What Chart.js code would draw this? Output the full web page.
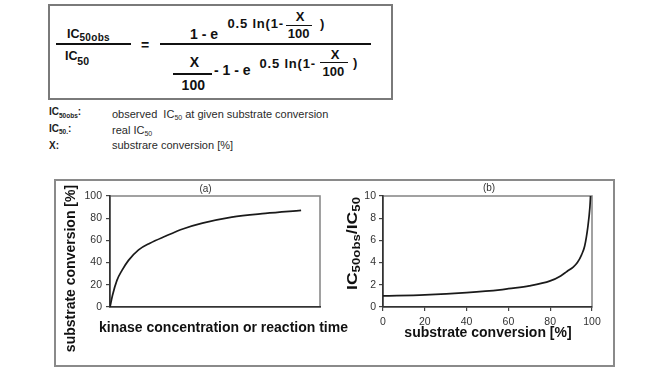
<!DOCTYPE html>
<html>
<head>
<meta charset="utf-8">
<script src="https://cdn.jsdelivr.net/npm/chart.js@4"></script>
<style>
  html, body { margin:0; padding:0; background:#fff; }
  #page { position:relative; width:652px; height:372px; overflow:hidden; font-family:"Liberation Sans", Arial, sans-serif; }
  .t { position:absolute; line-height:1; white-space:pre; font-weight:bold; color:#111; }
  .n { position:absolute; line-height:1; white-space:pre; font-weight:normal; color:#2a2a2a; }
  .c { text-align:center; width:30px; }
  .ln { position:absolute; background:#111; }
  .sub { font-size:6.5px; position:relative; top:2.5px; }
  #fbox { position:absolute; left:48px; top:4px; width:345px; height:96px; box-sizing:border-box; border:2px solid #7a7a7a; }
  #cbox { position:absolute; left:54px; top:179px; width:561px; height:188px; box-sizing:border-box; border:2px solid #8a8a8a; }
  canvas { position:absolute; }
</style>
</head>
<body>
<div id="page">
  <div id="fbox"></div>
  <!-- formula -->
  <span class="t" style="left:67px;top:27.7px;font-size:12.5px">IC</span>
  <span class="t" style="left:79.5px;top:33.2px;font-size:10px;letter-spacing:0.3px">50obs</span>
  <div class="ln" style="left:56px;top:43.3px;width:75px;height:1.5px"></div>
  <span class="t" style="left:65px;top:50.1px;font-size:12.5px">IC</span>
  <span class="t" style="left:77.3px;top:55.6px;font-size:10.5px">50</span>
  <span class="t" style="left:141px;top:37.6px;font-size:14px">=</span>
  <div class="ln" style="left:160px;top:43.3px;width:211px;height:1.5px"></div>
  <span class="t" style="left:190px;top:26.5px;font-size:14px">1 - e</span>
  <span class="t" style="left:227.5px;top:16.6px;font-size:13px;letter-spacing:0.8px">0.5 ln(1-</span>
  <span class="t c" style="left:285px;top:10px;font-size:13px">X</span>
  <div class="ln" style="left:286px;top:25px;width:26px;height:1.3px"></div>
  <span class="t c" style="left:283.7px;top:27.3px;font-size:13px">100</span>
  <span class="t" style="left:320px;top:16.6px;font-size:13px">)</span>
  <span class="t c" style="left:179.3px;top:54.9px;font-size:14px">X</span>
  <div class="ln" style="left:172.7px;top:73.3px;width:39px;height:1.5px"></div>
  <span class="t c" style="left:178.3px;top:78.2px;font-size:14px">100</span>
  <span class="t" style="left:214px;top:63.2px;font-size:14px">- 1 - e</span>
  <span class="t" style="left:259.5px;top:56.6px;font-size:13px;letter-spacing:0.8px">0.5 ln(1-</span>
  <span class="t c" style="left:320px;top:48.3px;font-size:13px">X</span>
  <div class="ln" style="left:320px;top:62px;width:28px;height:1.2px"></div>
  <span class="t c" style="left:318.3px;top:65px;font-size:13px">100</span>
  <span class="t" style="left:353px;top:56.3px;font-size:13px">)</span>
  <!-- legend -->
  <span class="t" style="left:49px;top:107.2px;font-size:10px;color:#222">IC<span class="sub">50obs</span>:</span>
  <span class="n" style="left:112px;top:108.6px;font-size:11px">observed  IC<span class="sub" style="font-size:7px">50</span> at given substrate conversion</span>
  <span class="t" style="left:49px;top:123.7px;font-size:10px;color:#222">IC<span class="sub">50.</span>:</span>
  <span class="n" style="left:112px;top:124.6px;font-size:11px">real IC<span class="sub" style="font-size:7px">50</span></span>
  <span class="t" style="left:49px;top:140.7px;font-size:10px;color:#222">X:</span>
  <span class="n" style="left:112px;top:140.3px;font-size:11px">substrare conversion [%]</span>

  <div id="cbox"></div>
  <canvas id="chartA" width="304" height="184" style="left:56px;top:181px"></canvas>
  <canvas id="chartB" width="273" height="184" style="left:340px;top:181px"></canvas>
</div>
<script>
// ---- data ----
const panelA_time = [0, 1.2, 3.3, 5.7, 8.8, 13.6, 19, 26, 35, 44, 58, 74, 91];
const panelA_conversion = [0, 10.6, 24, 33, 42, 51.5, 57.5, 63.5, 70.5, 75.5, 81, 84.3, 87];
const panelB_conversion = [0, 20, 40, 56, 60, 70, 80, 85, 88, 91, 93, 95, 96.5, 98, 99, 99.3];
const panelB_ratio = [1.0, 1.1, 1.3, 1.55, 1.65, 1.9, 2.35, 2.8, 3.2, 3.6, 4.0, 4.7, 5.5, 7.2, 9.0, 10];
const panelA_yTicks = [0, 20, 40, 60, 80, 100];
const panelB_yTicks = [0, 2, 4, 6, 8, 10];
const panelB_xTicks = [0, 20, 40, 60, 80, 100];

const FONT = '"Liberation Sans", Arial, sans-serif';

const framePlugin = {
  id: 'frame',
  beforeDraw(chart) {
    const a = chart.chartArea, ctx = chart.ctx;
    ctx.save();
    ctx.strokeStyle = '#8a8a8a';
    ctx.lineWidth = 1.6;
    ctx.strokeRect(a.left, a.top, a.right - a.left, a.bottom - a.top);
    ctx.restore();
  }
};

const textPlugin = {
  id: 'texts',
  afterDraw(chart, args, opts) {
    const ctx = chart.ctx;
    (opts.items || []).forEach(it => {
      ctx.save();
      ctx.translate(it.x, it.y);
      if (it.rot) ctx.rotate(it.rot);
      ctx.fillStyle = it.color || '#111';
      ctx.textBaseline = 'alphabetic';
      ctx.textAlign = 'left';
      let total = 0;
      const widths = it.parts.map(p => {
        ctx.font = (p.bold ? 'bold ' : '') + p.size + 'px ' + FONT;
        const w = ctx.measureText(p.t).width;
        total += w;
        return w;
      });
      if (it.width) ctx.scale(it.width / total, 1);
      let x = -total / 2;
      it.parts.forEach((p, i) => {
        ctx.font = (p.bold ? 'bold ' : '') + p.size + 'px ' + FONT;
        ctx.fillText(p.t, x, p.dy || 0);
        x += widths[i];
      });
      ctx.restore();
    });
  }
};

function setTicks(list) {
  return function(scale) { scale.ticks = list.map(v => ({ value: v })); };
}

const tickFont = { family: FONT, size: 10.5 };

new Chart(document.getElementById('chartA'), {
  type: 'line',
  data: {
    datasets: [{
      data: panelA_time.map((t, i) => ({ x: t, y: panelA_conversion[i] })),
      borderColor: '#1a1a1a', borderWidth: 1.7, pointRadius: 0,
      cubicInterpolationMode: 'monotone', fill: false
    }]
  },
  options: {
    responsive: false, animation: false, devicePixelRatio: 1,
    layout: { padding: { left: 0, top: 15, right: 40, bottom: 0 } },
    plugins: {
      legend: { display: false }, tooltip: { enabled: false },
      texts: { items: [
        { x: 19.2, y: 87.5, rot: -Math.PI / 2, parts: [{ t: 'substrate conversion [%]', size: 14, bold: true }] },
        { x: 167.5, y: 151, parts: [{ t: 'kinase concentration or reaction time', size: 14, bold: true }] },
        { x: 149.5, y: 11, color: '#333', parts: [{ t: '(a)', size: 10 }] }
      ] }
    },
    scales: {
      x: {
        type: 'linear', min: 0, max: 100,
        ticks: { display: false },
        grid: { display: false, drawTicks: false },
        border: { display: true, color: '#333', width: 1.6 },
        afterFit(s) { s.height = 58; }
      },
      y: {
        type: 'linear', min: 0, max: 100,
        afterBuildTicks: setTicks(panelA_yTicks),
        ticks: { font: tickFont, color: '#333', padding: 4 },
        grid: { drawOnChartArea: false, drawTicks: true, tickLength: 4, color: '#444', lineWidth: 1.2 },
        border: { display: true, color: '#333', width: 1.6 },
        afterFit(s) { s.width = 54; }
      }
    }
  },
  plugins: [framePlugin, textPlugin]
});

new Chart(document.getElementById('chartB'), {
  type: 'line',
  data: {
    datasets: [{
      data: panelB_conversion.map((c, i) => ({ x: c, y: panelB_ratio[i] })),
      borderColor: '#1a1a1a', borderWidth: 1.7, pointRadius: 0,
      cubicInterpolationMode: 'monotone', fill: false
    }]
  },
  options: {
    responsive: false, animation: false, devicePixelRatio: 1,
    layout: { padding: { left: 0, top: 15, right: 21, bottom: 0 } },
    plugins: {
      legend: { display: false }, tooltip: { enabled: false },
      texts: { items: [
        { x: 17.3, y: 62.5, rot: -Math.PI / 2, width: 93, parts: [
          { t: 'IC', size: 14, bold: true },
          { t: '50obs', size: 10.5, bold: true, dy: 3 },
          { t: '/IC', size: 14, bold: true },
          { t: '50', size: 10.5, bold: true, dy: 3 }
        ] },
        { x: 148, y: 156, parts: [{ t: 'substrate conversion [%]', size: 14, bold: true }] },
        { x: 149, y: 10, color: '#333', parts: [{ t: '(b)', size: 10 }] }
      ] }
    },
    scales: {
      x: {
        type: 'linear', min: 0, max: 100,
        afterBuildTicks: setTicks(panelB_xTicks),
        ticks: { font: tickFont, color: '#333', padding: 5, maxRotation: 0 },
        grid: { drawOnChartArea: false, drawTicks: true, tickLength: 4, color: '#444', lineWidth: 1.2 },
        border: { display: true, color: '#333', width: 1.6 },
        afterFit(s) { s.height = 58; }
      },
      y: {
        type: 'linear', min: 0, max: 10,
        afterBuildTicks: setTicks(panelB_yTicks),
        ticks: { font: tickFont, color: '#333', padding: 3 },
        grid: { drawOnChartArea: false, drawTicks: true, tickLength: 4, color: '#444', lineWidth: 1.2 },
        border: { display: true, color: '#333', width: 1.6 },
        afterFit(s) { s.width = 43; }
      }
    }
  },
  plugins: [framePlugin, textPlugin]
});
</script>
</body>
</html>
